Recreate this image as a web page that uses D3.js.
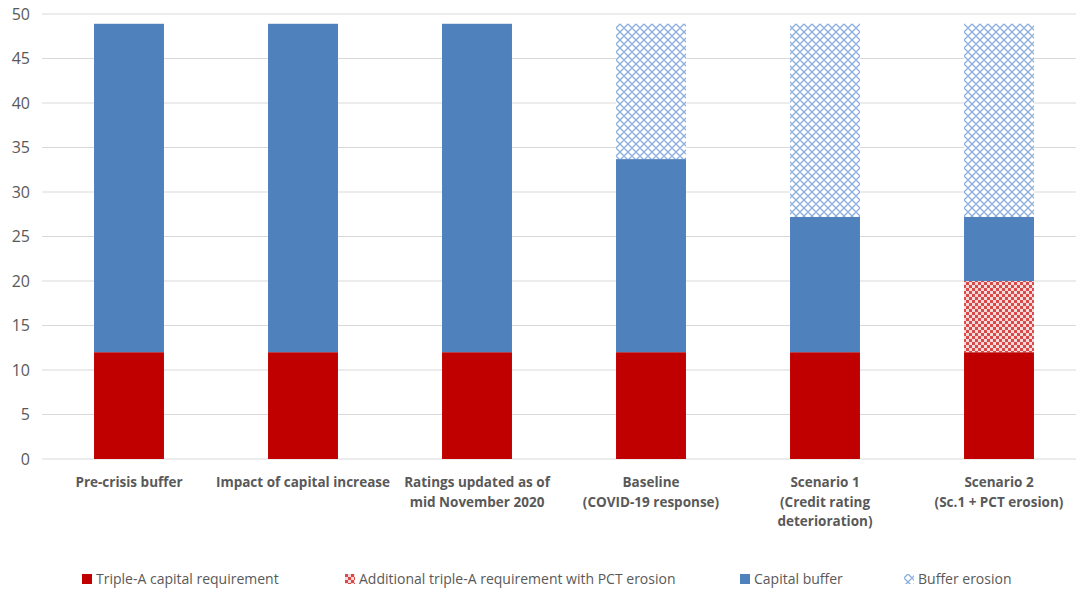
<!DOCTYPE html>
<html>
<head>
<meta charset="utf-8">
<script src="https://cdn.jsdelivr.net/npm/d3@7"></script>
<style>
  html, body { margin: 0; padding: 0; background: #fff; }
  svg { display: block; font-family: "Open Sans", "Lato", sans-serif; }
</style>
</head>
<body>
<svg id="chart" width="1081" height="593"></svg>
<script>
// Categories (multi-line labels)
const categories = [
  ["Pre-crisis buffer"],
  ["Impact of capital increase"],
  ["Ratings updated as of", "mid November 2020"],
  ["Baseline", "(COVID-19 response)"],
  ["Scenario 1", "(Credit rating", "deterioration)"],
  ["Scenario 2", "(Sc.1 + PCT erosion)"]
];

// Stacked series values (bottom to top)
const tripleA      = [12, 12, 12, 12, 12, 12];
const additionalA  = [0, 0, 0, 0, 0, 8];
const capitalBuf   = [36.9, 36.9, 36.9, 21.7, 15.2, 7.2];
const bufErosion   = [0, 0, 0, 15.2, 21.7, 21.7];

const yTicks = [0, 5, 10, 15, 20, 25, 30, 35, 40, 45, 50];

const seriesNames = [
  "Triple-A capital requirement",
  "Additional triple-A requirement with PCT erosion",
  "Capital buffer",
  "Buffer erosion"
];

const svg = d3.select("#chart");

// Fill patterns
const defs = svg.append("defs");
const checker = defs.append("pattern")
  .attr("id", "checker").attr("patternUnits", "userSpaceOnUse")
  .attr("width", 6).attr("height", 6);
checker.append("rect").attr("width", 6).attr("height", 6).attr("fill", "#f6dada");
checker.append("rect").attr("width", 3).attr("height", 3).attr("fill", "#d84a4a");
checker.append("rect").attr("x", 3).attr("y", 3).attr("width", 3).attr("height", 3).attr("fill", "#d84a4a");

const lattice = defs.append("pattern")
  .attr("id", "lattice").attr("patternUnits", "userSpaceOnUse")
  .attr("width", 8).attr("height", 8);
lattice.append("rect").attr("width", 8).attr("height", 8).attr("fill", "#ffffff");
lattice.append("path")
  .attr("d", "M0,4 L4,0 L8,4 L4,8 Z")
  .attr("fill", "none").attr("stroke", "#8aaee0").attr("stroke-width", 1.3);
lattice.append("circle").attr("cx", 4).attr("cy", 4).attr("r", 1.6).attr("fill", "#ffffff");

const fills = ["#c00000", "url(#checker)", "#4f81bd", "url(#lattice)"];

const x = d3.scaleBand()
  .domain(d3.range(categories.length))
  .range([42, 1086])
  .paddingInner(0.598)
  .paddingOuter(0.299);

const y = d3.scaleLinear().domain([0, 50]).range([459, 14]);

// Gridlines
svg.append("g")
  .selectAll("line")
  .data(yTicks)
  .join("line")
  .attr("x1", 42).attr("x2", 1076)
  .attr("y1", d => y(d)).attr("y2", d => y(d))
  .attr("stroke", "#d9d9d9").attr("stroke-width", 1);

// Y axis labels
const yAxis = d3.axisLeft(y).tickValues(yTicks).tickSize(0).tickPadding(0);
const yg = svg.append("g").attr("transform", "translate(30,0)").call(yAxis);
yg.select(".domain").remove();
yg.selectAll("text")
  .attr("font-size", 16).attr("fill", "#595959")
  .attr("font-family", "Open Sans, Lato, sans-serif");

// Stack
const rows = categories.map((c, i) => ({
  i, a: tripleA[i], b: additionalA[i], c: capitalBuf[i], d: bufErosion[i]
}));
const stack = d3.stack().keys(["a", "b", "c", "d"])(rows);

svg.append("g")
  .selectAll("g")
  .data(stack)
  .join("g")
  .attr("fill", (s, k) => fills[k])
  .selectAll("rect")
  .data(s => s.filter(d => d[1] - d[0] > 0))
  .join("rect")
  .attr("x", d => x(d.data.i))
  .attr("width", x.bandwidth())
  .attr("y", d => y(d[1]))
  .attr("height", d => y(d[0]) - y(d[1]));

// Category labels
const xl = svg.append("g");
categories.forEach((lines, i) => {
  const t = xl.append("text")
    .attr("x", x(i) + x.bandwidth() / 2)
    .attr("y", 487)
    .attr("text-anchor", "middle")
    .attr("font-size", 13.5).attr("font-weight", "bold")
    .attr("fill", "#595959");
  lines.forEach((ln, j) => {
    t.append("tspan").attr("x", x(i) + x.bandwidth() / 2)
      .attr("dy", j === 0 ? 0 : 19.5).text(ln);
  });
});

// Legend
const legendX = [82, 345, 740, 904];
const lg = svg.append("g");
seriesNames.forEach((name, k) => {
  const g = lg.append("g").attr("transform", `translate(${legendX[k]},574)`);
  g.append("rect").attr("width", 10).attr("height", 10).attr("fill", fills[k]);
  g.append("text").attr("x", 14).attr("y", 10)
    .attr("font-size", 14).attr("fill", "#595959").text(name);
});
</script>
</body>
</html>
